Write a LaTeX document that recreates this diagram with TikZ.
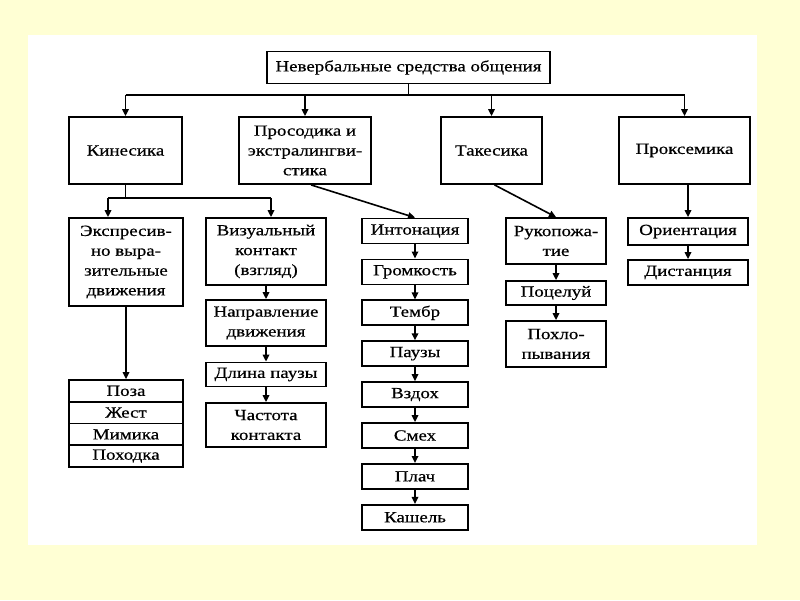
\documentclass[tikz,border=0pt]{standalone}
\usepackage{fontspec}
\setmainfont{Liberation Serif}[FakeStretch=1.22,FakeBold=0.5]
\usetikzlibrary{arrows.meta,calc}
\definecolor{bgyellow}{HTML}{FFFFD4}
\begin{document}
\begin{tikzpicture}[x=1pt,y=-1pt,
  box/.style={draw, line width=1.8pt, align=center, inner sep=0pt,
    font=\fontsize{15.5}{19.8}\selectfont},
  wire/.style={line width=1.6pt},
  arr/.style={line width=1.6pt, -{Triangle[length=7pt,width=6.5pt]}},
]
\useasboundingbox (0,0) rectangle (800,600);
\fill[bgyellow] (0,0) rectangle (800,600);
\fill[white] (28,35) rectangle (757,545);

% level 0
\node[box, minimum width=283pt, minimum height=32pt] (top) at (408.5,67.5) {Невербальные средства общения};
% level 1
\node[box, minimum width=113pt, minimum height=67pt] (kin) at (125.5,150.5) {Кинесика};
\node[box, minimum width=132pt, minimum height=67pt] (pros) at (305,150.5) {Просодика и\\экстралингви-\\стика};
\node[box, minimum width=101pt, minimum height=67pt] (tak) at (491.5,150.5) {Такесика};
\node[box, minimum width=131pt, minimum height=67pt] (prox) at (684.5,150.5) {Проксемика};

% kinesika branch
\node[box, minimum width=114pt, minimum height=88pt] (expr) at (126,262) {Экспресив-\\но выра-\\зительные\\движения};
\node[box, minimum width=120pt, minimum height=67pt] (vis) at (266,251.5) {Визуальный\\контакт\\(взгляд)};
\node[box, minimum width=120pt, minimum height=46pt] (napr) at (266,323) {Направление\\движения};
\node[box, minimum width=120pt, minimum height=24pt] (dlina) at (266,374.5) {Длина паузы};
\node[box, minimum width=120pt, minimum height=44pt] (chast) at (266,425) {Частота\\контакта};

\node[box, minimum width=114pt, minimum height=21.75pt] (poza) at (126,390.9) {Поза};
\node[box, minimum width=114pt, minimum height=21.75pt] (zhest) at (126,412.6) {Жест};
\node[box, minimum width=114pt, minimum height=21.75pt] (mimika) at (126,434.4) {Мимика};
\node[box, minimum width=114pt, minimum height=21.75pt] (pokhodka) at (126,456.1) {Походка};

% prosodika column
\foreach \n/\t [count=\i from 0] in {p0/Интонация,p1/Громкость,p2/Тембр,p3/Паузы,p4/Вздох,p5/Смех,p6/Плач,p7/Кашель}{
  \node[box, minimum width=106pt, minimum height=25pt] (\n) at (415,231+40.9*\i) {\t};
}

% takesika column
\node[box, minimum width=100pt, minimum height=46pt] (ruk) at (556,241) {Рукопожа-\\тие};
\node[box, minimum width=100pt, minimum height=24pt] (poc) at (556,293) {Поцелуй};
\node[box, minimum width=100pt, minimum height=46pt] (pokh) at (556,344) {Похло-\\пывания};

% proxemika column
\node[box, minimum width=120pt, minimum height=27pt] (orient) at (688,231.5) {Ориентация};
\node[box, minimum width=120pt, minimum height=25pt] (dist) at (688,272.5) {Дистанция};

% top bus
\coordinate (bus) at (top.south |- 0,95);
\draw[wire] (top.south) -- (bus);
\draw[wire] (bus -| kin.north) -- (bus -| prox.north);
\foreach \n in {kin,pros,tak,prox}{
  \draw[arr] (bus -| \n.north) -- (\n.north);
}

% kinesika bus
\coordinate (kbus) at (kin.south |- 0,198);
\coordinate (ka) at (108,198);
\coordinate (kb) at (271,198);
\draw[wire] (kin.south) -- (kbus);
\draw[wire] (ka) -- (kb);
\draw[arr] (ka) -- (ka |- expr.north);
\draw[arr] (kb) -- (kb |- vis.north);
\draw[arr] (expr.south) -- (poza.north);
\draw[arr] (vis.south) -- (napr.north);
\draw[arr] (napr.south) -- (dlina.north);
\draw[arr] (dlina.south) -- (chast.north);

% prosodika
\draw[arr] ($(pros.south)+(6,0)$) -- (p0.north);
\foreach \a/\b in {p0/p1,p1/p2,p2/p3,p3/p4,p4/p5,p5/p6,p6/p7}{
  \draw[arr] (\a.south) -- (\b.north);
}

% takesika
\draw[arr] ($(tak.south)+(3,0)$) -- (ruk.north);
\draw[arr] (ruk.south) -- (poc.north);
\draw[arr] (poc.south) -- (pokh.north);

% proxemika
\draw[arr] (prox.south -| orient.north) -- (orient.north);
\draw[arr] (orient.south) -- (dist.north);
\end{tikzpicture}
\end{document}
